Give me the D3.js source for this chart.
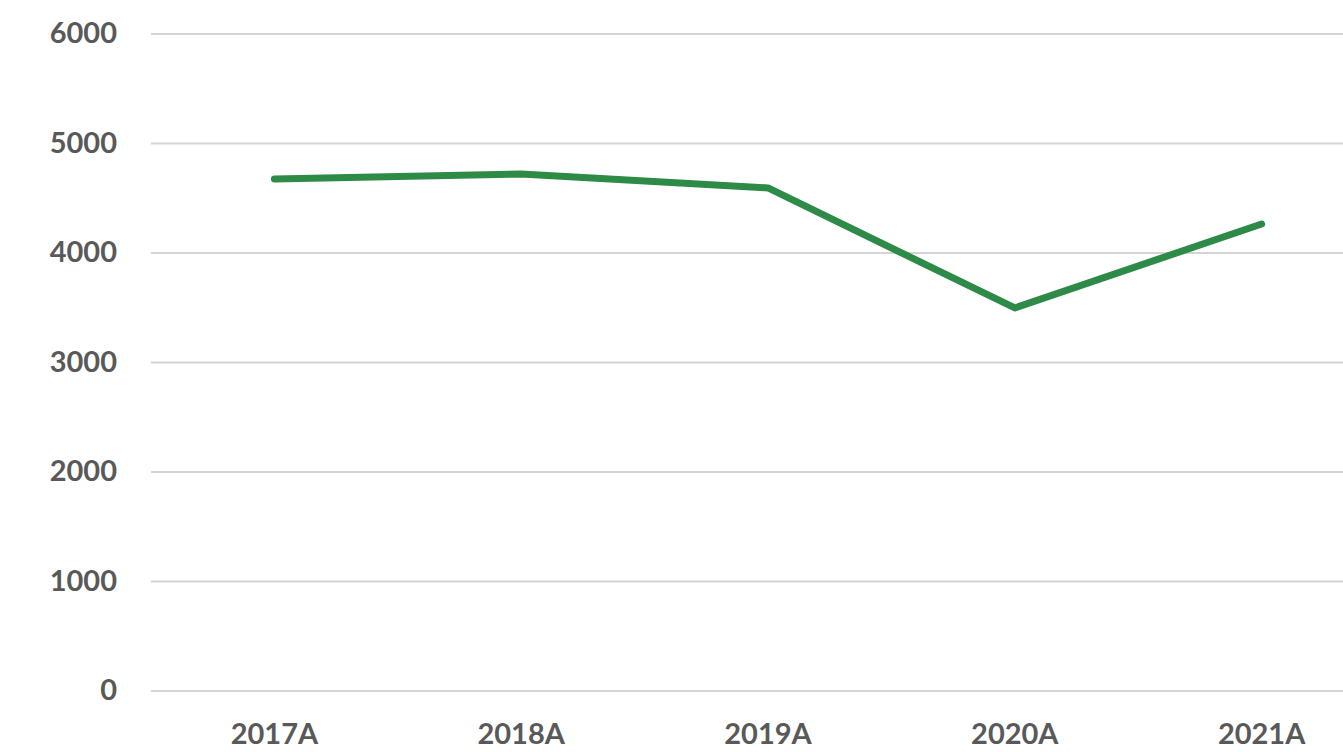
<!DOCTYPE html>
<html>
<head>
<meta charset="utf-8">
<script src="https://cdn.jsdelivr.net/npm/d3@7"></script>
<style>
  body { margin: 0; background: #fff; overflow: hidden; }
  text { font-family: Lato, "Open Sans", sans-serif; font-weight: bold; fill: #595959; }
</style>
</head>
<body>
<svg id="chart" width="1343" height="752"></svg>
<script>
var years = ["2017A", "2018A", "2019A", "2020A", "2021A"];
var values = [4676, 4721, 4594, 3498, 4265];
var yTicks = [0, 1000, 2000, 3000, 4000, 5000, 6000];

var svg = d3.select("#chart");

// plot is wider than the window, the right side gets cut off
var x = d3.scaleBand().domain(years).range([151, 1385]);
var y = d3.scaleLinear().domain([0, 6000]).range([691, 34]);

// gridlines
svg.append("g").selectAll("line")
  .data(yTicks).enter()
  .append("line")
  .attr("x1", 151).attr("x2", 1343)
  .attr("y1", function(d){ return y(d); })
  .attr("y2", function(d){ return y(d); })
  .attr("stroke", "#d4d4d4")
  .attr("stroke-width", 2);

// y labels
svg.append("g").selectAll("text")
  .data(yTicks).enter()
  .append("text")
  .attr("x", 117)
  .attr("y", function(d){ return y(d); })
  .attr("dy", "0.32em")
  .attr("text-anchor", "end")
  .attr("font-size", 29)
  .text(function(d){ return d; });

// x labels
svg.append("g").selectAll("text")
  .data(years).enter()
  .append("text")
  .attr("x", function(d){ return x(d) + x.bandwidth()/2; })
  .attr("y", 744)
  .attr("text-anchor", "middle")
  .attr("font-size", 29)
  .text(function(d){ return d; });

var line = d3.line()
  .x(function(d, i){ return x(years[i]) + x.bandwidth()/2; })
  .y(function(d){ return y(d); });

svg.append("path")
  .datum(values)
  .attr("d", line)
  .attr("fill", "none")
  .attr("stroke", "#2e8b47")
  .attr("stroke-width", 7)
  .attr("stroke-linecap", "round")
  .attr("stroke-linejoin", "round");
</script>
</body>
</html>
